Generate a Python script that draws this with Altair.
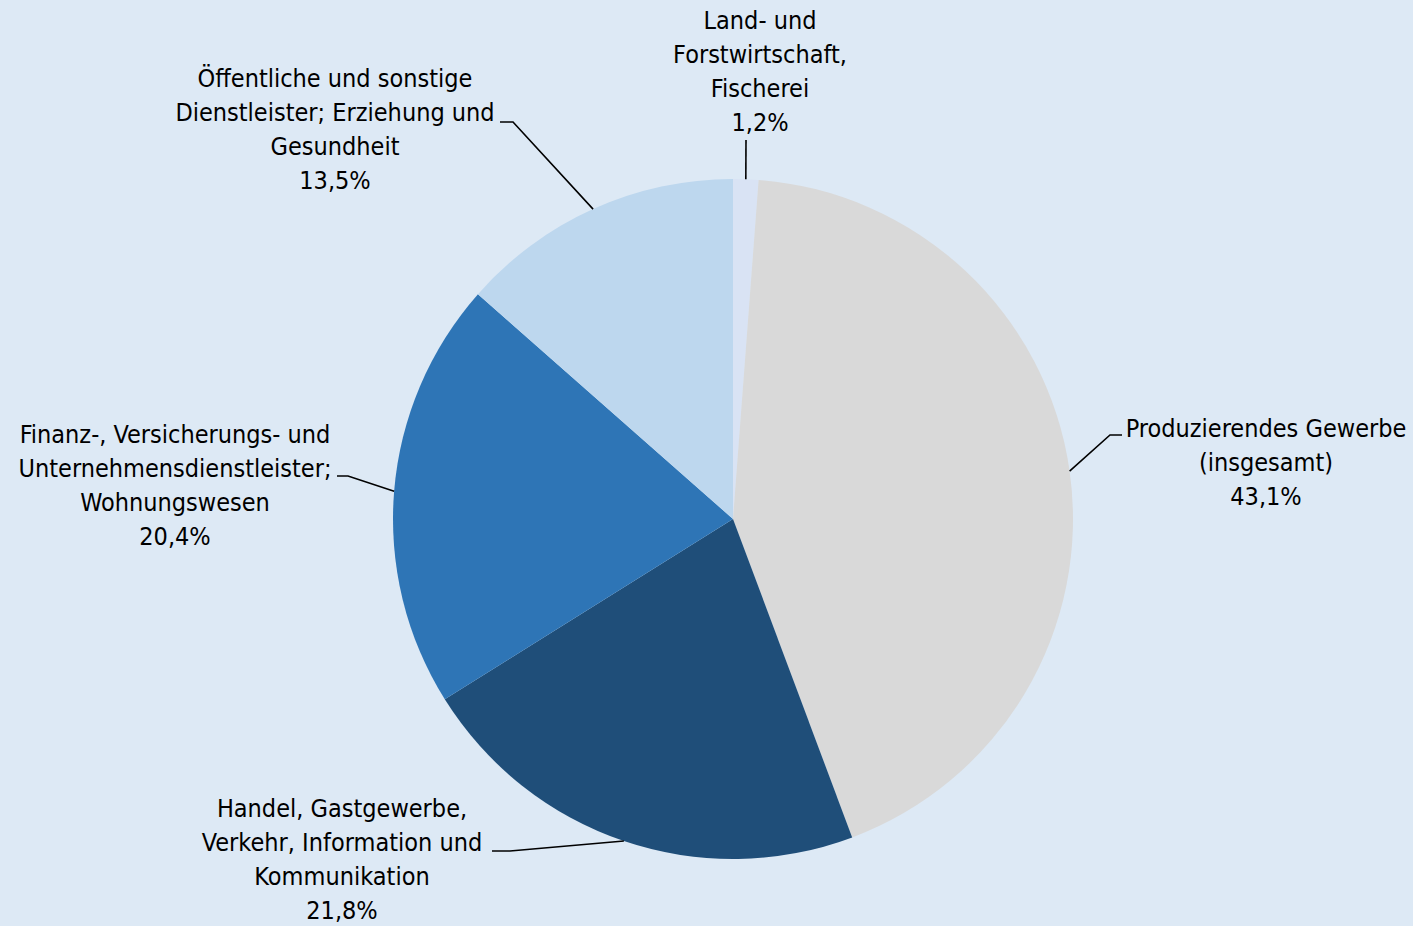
import math
import altair as alt
import pandas as pd

# ---- data ----
categories = [
    "Land- und Forstwirtschaft, Fischerei",
    "Produzierendes Gewerbe (insgesamt)",
    "Handel, Gastgewerbe, Verkehr, Information und Kommunikation",
    "Finanz-, Versicherungs- und Unternehmensdienstleister; Wohnungswesen",
    "Öffentliche und sonstige Dienstleister; Erziehung und Gesundheit",
]
shares = [1.2, 43.1, 21.8, 20.4, 13.5]
label_lines = [
    ["Land- und", "Forstwirtschaft,", "Fischerei", "1,2%"],
    ["Produzierendes Gewerbe", "(insgesamt)", "43,1%"],
    ["Handel, Gastgewerbe,", "Verkehr, Information und", "Kommunikation", "21,8%"],
    ["Finanz-, Versicherungs- und", "Unternehmensdienstleister;", "Wohnungswesen", "20,4%"],
    ["Öffentliche und sonstige", "Dienstleister; Erziehung und", "Gesundheit", "13,5%"],
]
colors = ["#d9e3f4", "#d9d9d9", "#1f4e79", "#2e75b6", "#bdd7ee"]

# ---- layout ----
W, H = 1413, 926
CX, CY, R = 733, 519, 340
LINE_H = 34
FONT = "DejaVu Sans Condensed, Roboto, sans-serif"
label_pos = [(760, 21), (1266, 429), (342, 809), (175, 435), (335, 79)]
# leader waypoints after the slice edge point
leader_pts = [
    [(746, 140)],
    [(1110, 435), (1122, 435)],
    [(510, 851), (492, 851)],
    [(348, 476), (337, 476)],
    [(513, 122), (500, 122)],
]

df = pd.DataFrame({"cat": categories, "share": shares, "idx": list(range(len(shares)))})

# text rows
trows = []
for i, lines in enumerate(label_lines):
    x0, y0 = label_pos[i]
    for j, t in enumerate(lines):
        trows.append({"x": x0, "y": y0 + j * LINE_H, "t": t})
tdf = pd.DataFrame(trows)

# leader rows: start at slice mid-angle on the rim
total = sum(shares)
lrows = []
cum = 0.0
for i, s in enumerate(shares):
    mid = (cum + s / 2) / total * 2 * math.pi
    cum += s
    ex = CX + R * math.sin(mid)
    ey = CY - R * math.cos(mid)
    pts = [(ex, ey)] + leader_pts[i]
    for k, (px, py) in enumerate(pts):
        lrows.append({"cat": categories[i], "k": k, "x": px, "y": py})
ldf = pd.DataFrame(lrows)

xs = alt.Scale(domain=[0, W], range=[0, W])
ys = alt.Scale(domain=[0, H], range=[0, H])

pie = alt.Chart(df).mark_arc(outerRadius=R, strokeWidth=0).encode(
    theta=alt.Theta("share:Q", stack=True),
    order=alt.Order("idx:Q"),
    color=alt.Color("cat:N", scale=alt.Scale(domain=categories, range=colors), legend=None),
    x=alt.value(CX),
    y=alt.value(CY),
)

leaders = alt.Chart(ldf).mark_line(color="#000000", strokeWidth=1.6).encode(
    x=alt.X("x:Q", scale=xs, axis=None),
    y=alt.Y("y:Q", scale=ys, axis=None),
    detail="cat:N",
    order="k:Q",
)

texts = alt.Chart(tdf).mark_text(
    font=FONT, fontSize=25, color="#000000", align="center", baseline="middle"
).encode(
    x=alt.X("x:Q", scale=xs, axis=None),
    y=alt.Y("y:Q", scale=ys, axis=None),
    text="t:N",
)

chart = alt.layer(pie, leaders, texts).properties(
    width=W, height=H, padding=0, autosize=alt.AutoSizeParams(type="none"),
    background="#dde9f5",
).configure_view(stroke=None)

chart.save("out.html", embed_options={"renderer": "svg", "actions": False})
